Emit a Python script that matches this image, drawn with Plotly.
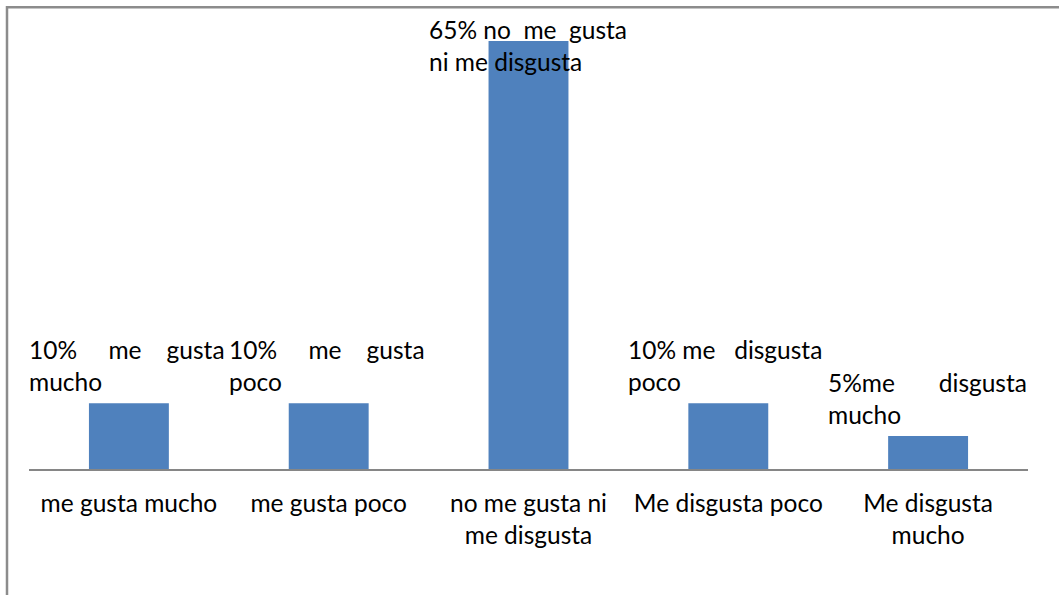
import plotly.graph_objects as go

# --- data -------------------------------------------------------------
categories = ["me gusta mucho", "me gusta poco", "no me gusta ni me disgusta",
              "Me disgusta poco", "Me disgusta mucho"]
tick_labels = ["me gusta mucho", "me gusta poco", "no me gusta ni<br>me disgusta",
               "Me disgusta poco", "Me disgusta<br>mucho"]
values = [10, 10, 65, 10, 5]

# label text after the percentage, split into first line words / second line
label_first_words = [["me", "gusta"], ["me", "gusta"], ["no", "me", "gusta"],
                     ["me", "disgusta"], ["me", "disgusta"]]
label_second_line = ["mucho", "poco", "ni me disgusta", "poco", "mucho"]
pct_joined = [False, False, False, False, True]   # "5%me" is written without a space

# --- styling ----------------------------------------------------------
FONT = "Lato"
FONT_SIZE = 24.5
BAR_COLOR = "#4F81BD"
GRAY = "#8C8C8C"
# non-breaking spaces per word gap, so the first label line fills its box
gap_pad = [[5, 4], [5, 4], [1, 2, 2], [1, 3], [7]]
LABEL_W = 200
NB = "\u00a0"


def build_label(i):
    tokens = [f"{values[i]}%"] + label_first_words[i]
    if pct_joined[i]:
        tokens = [tokens[0] + tokens[1]] + tokens[2:]
    line1 = tokens[0]
    for tok, n in zip(tokens[1:], gap_pad[i]):
        line1 += NB * n + tok
    return line1 + "<br>" + label_second_line[i]


fig = go.Figure(go.Bar(
    x=categories, y=values, width=0.4,
    marker=dict(color=BAR_COLOR, line=dict(width=0)),
))

Y_MAX = 70
annotations = []
for i, (c, v) in enumerate(zip(categories, values)):
    top_clamped = v > 55
    annotations.append(dict(
        x=c, y=Y_MAX if top_clamped else v, xref="x", yref="y",
        text=build_label(i), showarrow=False,
        xanchor="center", yanchor="top" if top_clamped else "bottom",
        yshift=-5 if top_clamped else 5,
        width=LABEL_W, align="left",
        font=dict(family=FONT, size=FONT_SIZE, color="#000000"),
    ))

fig.update_layout(
    width=1059, height=595,
    margin=dict(l=29, r=31, t=8, b=126),
    paper_bgcolor="white", plot_bgcolor="white",
    showlegend=False,
    annotations=annotations,
    font=dict(family=FONT, size=FONT_SIZE, color="#000000"),
    xaxis=dict(
        type="category", range=[-0.5, 4.5],
        tickvals=categories, ticktext=tick_labels,
        showline=True, linecolor="#868686", linewidth=1.5,
        ticks="", showgrid=False, zeroline=False,
        tickfont=dict(family=FONT, size=FONT_SIZE, color="#000000"),
        ticklabelstandoff=12,
    ),
    yaxis=dict(range=[0, Y_MAX], visible=False, showgrid=False, zeroline=False),
    shapes=[
        dict(type="rect", xref="paper", yref="paper",
             x0=-22 / 999, x1=1.2, y0=-0.5, y1=1.0015,
             line=dict(color=GRAY, width=2.5), fillcolor="rgba(0,0,0,0)",
             layer="below"),
    ],
)

fig.write_html("out.html")
